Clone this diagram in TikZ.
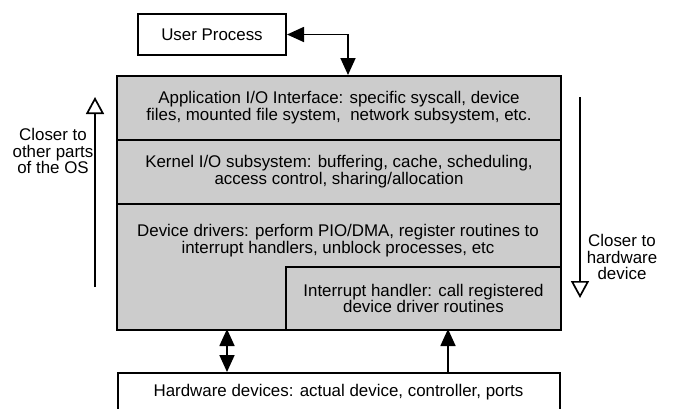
\documentclass[tikz,border=0pt]{standalone}
\usepackage{fontspec}
\newfontfamily\diagfont{Liberation Sans}
\usetikzlibrary{arrows.meta}
\definecolor{layergray}{HTML}{CCCCCC}
\tikzset{
  box/.style={draw, line width=2pt, inner sep=0pt, align=center},
  layer/.style={box, fill=layergray, anchor=north west},
  txt/.style={align=center, inner sep=0pt},
  link/.style={line width=1.7pt, -{Triangle[length=17pt,width=15pt]}},
  duplex/.style={line width=1.7pt, {Triangle[length=17pt,width=15pt]}-{Triangle[length=17pt,width=15pt]}},
  hint/.style={line width=1.7pt, -{Triangle[open,length=17pt,width=18pt,line width=1.7pt]}},
}
\begin{document}
\begin{tikzpicture}[x=1pt, y=-1pt, font=\diagfont\fontsize{16.9}{16.8}\selectfont]
\useasboundingbox (0,0) rectangle (675,408);

% user process at the top
\node[box, minimum width=148, minimum height=41, anchor=north west] (user) at (137,13) {};
\node[txt] at (user.center) {User Process};

% stacked kernel layers
\node[layer, minimum width=444, minimum height=64] (app) at (116,75) {};
\node[txt] at (app.center) {Application I/O Interface: specific syscall, device\\files, mounted file system,\ \ network subsystem, etc.};
\node[layer, minimum width=444, minimum height=64] (kio) at (116,139) {};
\node[txt] at (kio.center) {Kernel I/O subsystem: buffering, cache, scheduling,\\access control, sharing/allocation};
\node[layer, minimum width=444, minimum height=126] (drv) at (116,203) {};
\node[txt] (drvtext) at (338,241) {Device drivers: perform PIO/DMA, register routines to\\interrupt handlers, unblock processes, etc};
\node[layer, minimum width=275, minimum height=63] (irq) at (285,266) {};
\node[txt] at (irq.center) {Interrupt handler: call registered\\device driver routines};

% hardware at the bottom
\node[box, fill=white, minimum width=442, minimum height=42, anchor=north west] (hw) at (117,372) {};
\node[txt] at (338.5,392) {Hardware devices: actual device, controller, ports};

% connectors
\coordinate (appin) at (348,75);
\draw[duplex] (user.east) -| (appin);
\coordinate (drvport) at (227,329);
\coordinate (hwport) at (227,372);
\draw[duplex] (drvport) -- (hwport);
\coordinate (irqport) at (448,329);
\coordinate (hwirq) at (448,372);
\draw[link] (hwirq) -- (irqport);

% direction hints at the sides
\coordinate (upfrom) at (95,287);
\coordinate (upto) at (95,97);
\draw[hint] (upfrom) -- (upto);
\node[txt] (uptext) at (53,151) {Closer to\\other parts\\of the OS};
\coordinate (downfrom) at (580,97);
\coordinate (downto) at (580,298);
\draw[hint] (downfrom) -- (downto);
\node[txt] (downtext) at (622,257) {Closer to\\hardware\\device};
\end{tikzpicture}
\end{document}
